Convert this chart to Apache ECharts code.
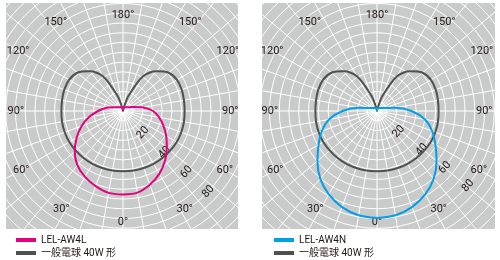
<!DOCTYPE html>
<html><head><meta charset="utf-8">
<script src="https://cdn.jsdelivr.net/npm/echarts@6/dist/echarts.min.js"></script>
<style>
html,body{margin:0;padding:0;background:#fff;width:500px;height:260px;overflow:hidden}
#l,#r{position:absolute;top:0;width:250px;height:260px}
#l{left:0}#r{left:250px}
</style>
</head><body><div id="l"></div><div id="r"></div>
<script>
// ---- data ----
const ANGLES = [0,10,20,30,40,50,60,70,80,90,100,110,120,130,140,150,160,170,180,
                190,200,210,220,230,240,250,260,270,280,290,300,310,320,330,340,350,360];
const AW4L = [57,56.7,54.5,51.8,48.3,43,36.5,30,23.5,17,12,7.5,5,4,3.4,2.9,2.6,2.0,0.5,
              2.0,2.6,2.9,3.4,4,5.2,8,14,20.5,25,29.3,34,39,44.5,49.5,53.5,56.5,57];
const AW4N = [73,72.2,69.7,65.7,60.2,53,46,40,33.2,23.5,12.5,6,4,3.1,2.6,2.3,2.1,1.6,0.4,
              1.6,2.1,2.3,2.6,3.1,4,6,12.5,23.5,33.2,40,46,53,60.2,65.7,69.7,72.2,73];
const BULB = [41,41.2,41.4,41.6,41.8,42,42.3,42.3,42.2,42,42.2,42.6,42.5,40.6,35.3,27.4,11,1.5,0,
              1.5,11,27.4,35.3,40.6,42.5,42.6,42.2,42,42.2,42.3,42.3,42,41.8,41.6,41.4,41.2,41];
const RADIUS_LABELS = [20,40,60,80];
const ANGLE_TICKS = [0,30,60,90,120,150,180,210,240,270,300,330];
const NAME_L = 'LEL-AW4L';
const NAME_R = 'LEL-AW4N';
const NAME_BULB = '一般電球 40W 形';

// ---- layout / style ----
const FONT = "Roboto,'Noto Sans CJK JP',sans-serif";
const TXT = '#231815';
const BG = '#c9caca';
const RMAX = 120;
const RPX = 176;
// where each angle label sits (radius in px, start angle of its helper polar)
const LABEL_PLACES = [
  {labels:[180], rho:90, start:-90},
  {labels:[0], rho:106, start:-90},
  {labels:[90,270], rho:99, start:-90},
  {labels:[60,120,240,300], rho:108, start:-90},
  {labels:[30,330], rho:107, start:-90},
  {labels:[150], rho:100, start:-86},
  {labels:[210], rho:100, start:-94}
];

function pairs(vals){ return vals.map((v,i)=>[v, ANGLES[i]]); }
function degLabel(group){
  return function(v){
    return (group.indexOf(v) >= 0 && ANGLE_TICKS.indexOf(v) >= 0) ? ((v<=180?v:360-v)+'°') : '';
  };
}

function makeOption(c){
  const b = c.box, W = 250, H = 260;
  const mask = (x,y,w,h)=>({type:'rect', z:100, silent:true, shape:{x,y,width:w,height:h}, style:{fill:'#ffffff'}});
  const opt = {
    animation:false,
    backgroundColor: BG,
    polar: [{center:c.center, radius:RPX}],
    angleAxis:[
      {polarIndex:0, startAngle:-90, min:0, max:360, interval:10,
       axisLine:{show:false}, axisTick:{show:false}, axisLabel:{show:false},
       splitLine:{show:true, lineStyle:{color:'#ffffff', width:1}}}
    ],
    radiusAxis:[
      {polarIndex:0, min:0, max:RMAX, interval:20,
       axisLine:{show:false}, axisTick:{show:false}, axisLabel:{show:false},
       splitLine:{show:true, lineStyle:{color:'#ffffff', width:1}},
       minorTick:{show:false, splitNumber:3},
       minorSplitLine:{show:true, lineStyle:{color:'#ffffff', width:1}}}
    ],
    series:[
      {type:'line', name:NAME_BULB, coordinateSystem:'polar', polarIndex:0, data:pairs(BULB),
       showSymbol:false, smooth:0.3, lineStyle:{color:'#505050', width:2}, itemStyle:{color:'#505050'}, z:3},
      {type:'line', name:c.name, coordinateSystem:'polar', polarIndex:0, data:pairs(c.values),
       showSymbol:false, smooth:0.3, lineStyle:{color:c.color, width:2}, itemStyle:{color:c.color}, z:4}
    ],
    legend:{
      data:[c.name, NAME_BULB], orient:'vertical', left:c.legendLeft, top:234, padding:0,
      itemWidth:20, itemHeight:4, itemGap:1, icon:'rect', selectedMode:false, z:200,
      textStyle:{fontSize:10, lineHeight:12, color:TXT, fontFamily:FONT}
    },
    graphic:[
      mask(0,0,W,b.y),
      mask(0,b.y+b.h,W,H-b.y-b.h),
      mask(0,0,b.x,H),
      mask(b.x+b.w,0,W-b.x-b.w,H)
    ]
  };
  // angle labels, each group on a helper polar sharing the same centre
  LABEL_PLACES.forEach(g => {
    const idx = opt.polar.length;
    opt.polar.push({center:c.center, radius:RPX});
    opt.angleAxis.push({polarIndex:idx, startAngle:g.start, min:0, max:360, interval:30,
      axisLine:{show:false}, axisTick:{show:false}, splitLine:{show:false},
      axisLabel:{margin:g.rho-RPX, formatter:degLabel(g.labels), color:TXT, fontSize:11, fontFamily:FONT}});
    opt.radiusAxis.push({polarIndex:idx, min:0, max:RMAX, show:false});
  });
  // radius labels 20..80 on a diagonal helper axis
  const ri = opt.polar.length;
  opt.polar.push({center:c.center, radius:RPX});
  opt.angleAxis.push({polarIndex:ri, startAngle:c.rAngle, min:0, max:360, show:false});
  opt.radiusAxis.push({polarIndex:ri, min:0, max:RMAX, interval:20,
    axisLine:{show:false}, axisTick:{show:false}, splitLine:{show:false},
    axisLabel:{show:true, rotate:48, margin:-9, color:TXT, fontSize:11, fontFamily:FONT,
      formatter: v => RADIUS_LABELS.indexOf(v) >= 0 ? String(v) : ''}});
  return opt;
}

const cfgL = {center:[123,111], box:{x:6,y:3,w:232,h:226}, name:NAME_L, values:AW4L, color:'#e4007f', legendLeft:16, rAngle:-42};
const cfgR = {center:[127,111], box:{x:12,y:3,w:233,h:226}, name:NAME_R, values:AW4N, color:'#00a0e9', legendLeft:24, rAngle:-38};

echarts.init(document.getElementById('l'), null, {renderer:'canvas'}).setOption(makeOption(cfgL));
echarts.init(document.getElementById('r'), null, {renderer:'canvas'}).setOption(makeOption(cfgR));
</script>
</body></html>
